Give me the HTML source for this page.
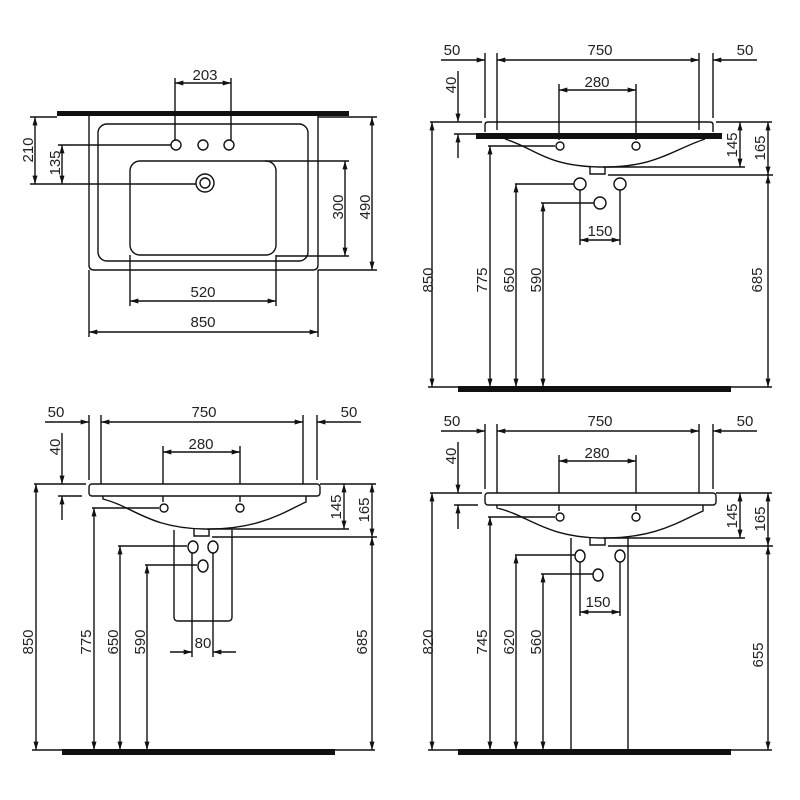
<!DOCTYPE html>
<html><head><meta charset="utf-8"><style>
html,body{margin:0;padding:0;background:#fff;}
svg{display:block;}
text{font-family:"Liberation Sans",sans-serif;font-size:15px;fill:#222;}
</style></head><body>
<svg width="800" height="800" viewBox="0 0 800 800" xmlns="http://www.w3.org/2000/svg">
<defs>
<marker id="a" viewBox="0 0 10 6" refX="10" refY="3" markerWidth="9" markerHeight="5" markerUnits="userSpaceOnUse" orient="auto-start-reverse"><path d="M0,0L10,3L0,6z" fill="#111"/></marker>
<g id="top">
  <line x1="441" y1="60" x2="485" y2="60" stroke="#111" stroke-width="1.4" marker-end="url(#a)"/>
  <line x1="757" y1="60" x2="713" y2="60" stroke="#111" stroke-width="1.4" marker-end="url(#a)"/>
  <line x1="497" y1="60" x2="699" y2="60" stroke="#111" stroke-width="1.4" marker-start="url(#a)" marker-end="url(#a)"/>
  <g stroke="#111" stroke-width="1.4">
    <line x1="485" y1="53" x2="485" y2="118"/><line x1="497" y1="53" x2="497" y2="130"/>
    <line x1="699" y1="53" x2="699" y2="130"/><line x1="713" y1="53" x2="713" y2="118"/>
    <line x1="559" y1="84" x2="559" y2="140"/><line x1="636" y1="84" x2="636" y2="140"/>
    <line x1="430" y1="122" x2="482" y2="122"/><line x1="716" y1="122" x2="772" y2="122"/>
    <line x1="454" y1="134" x2="478" y2="134"/>
    <line x1="488" y1="146" x2="555" y2="146"/>
    <line x1="603" y1="167" x2="745" y2="167"/>
    <line x1="608" y1="175" x2="773" y2="175"/>
    <path d="M590,167 V174 H605 V167" fill="none"/>
    <circle cx="560" cy="146" r="4" fill="#fff"/><circle cx="636" cy="146" r="4" fill="#fff"/>
  </g>
  <line x1="559" y1="90" x2="636" y2="90" stroke="#111" stroke-width="1.4" marker-start="url(#a)" marker-end="url(#a)"/>
  <line x1="458" y1="71" x2="458" y2="122" stroke="#111" stroke-width="1.4" marker-end="url(#a)"/>
  <line x1="458" y1="158" x2="458" y2="134" stroke="#111" stroke-width="1.4" marker-end="url(#a)"/>
  <line x1="740" y1="122" x2="740" y2="167" stroke="#111" stroke-width="1.4" marker-start="url(#a)" marker-end="url(#a)"/>
  <line x1="768" y1="122" x2="768" y2="175" stroke="#111" stroke-width="1.4" marker-start="url(#a)" marker-end="url(#a)"/>
  <text x="452" y="55" text-anchor="middle">50</text>
  <text x="600" y="55" text-anchor="middle">750</text>
  <text x="745" y="55" text-anchor="middle">50</text>
  <text x="597" y="87" text-anchor="middle">280</text>
  <text transform="translate(456,85) rotate(-90)" text-anchor="middle">40</text>
  <text transform="translate(737,145) rotate(-90)" text-anchor="middle">145</text>
  <text transform="translate(765,148) rotate(-90)" text-anchor="middle">165</text>
</g>
</defs>

<!-- TOP LEFT -->
<g stroke="#111" stroke-width="1.4" fill="none">
  <rect x="57" y="111" width="292" height="5" fill="#111" stroke="none"/>
  <path d="M89,116 V265 Q89,270 94,270 H313 Q318,270 318,265 V116"/>
  <rect x="98" y="124" width="210" height="137" rx="9"/>
  <rect x="130" y="161" width="146" height="94" rx="10"/>
  <circle cx="176" cy="145" r="5"/><circle cx="203" cy="145" r="5"/><circle cx="229" cy="145" r="5"/>
  <circle cx="205" cy="183" r="9"/><circle cx="205" cy="183" r="5"/>
  <line x1="175" y1="78" x2="175" y2="140"/><line x1="231" y1="78" x2="231" y2="140"/>
  <line x1="30" y1="117" x2="57" y2="117"/>
  <line x1="58" y1="145" x2="171" y2="145"/>
  <line x1="30" y1="184" x2="196" y2="184"/>
  <line x1="265" y1="161" x2="349" y2="161"/><line x1="276" y1="256" x2="349" y2="256"/>
  <line x1="318" y1="117" x2="377" y2="117"/><line x1="318" y1="270" x2="377" y2="270"/>
  <line x1="130" y1="255" x2="130" y2="306"/><line x1="276" y1="255" x2="276" y2="306"/>
  <line x1="89" y1="270" x2="89" y2="337"/><line x1="318" y1="270" x2="318" y2="337"/>
</g>
<g stroke="#111" stroke-width="1.4">
  <line x1="175" y1="83" x2="231" y2="83" marker-start="url(#a)" marker-end="url(#a)"/>
  <line x1="35" y1="117" x2="35" y2="184" marker-start="url(#a)" marker-end="url(#a)"/>
  <line x1="62" y1="145" x2="62" y2="184" marker-start="url(#a)" marker-end="url(#a)"/>
  <line x1="345" y1="161" x2="345" y2="256" marker-start="url(#a)" marker-end="url(#a)"/>
  <line x1="372" y1="117" x2="372" y2="270" marker-start="url(#a)" marker-end="url(#a)"/>
  <line x1="130" y1="301" x2="276" y2="301" marker-start="url(#a)" marker-end="url(#a)"/>
  <line x1="89" y1="332" x2="318" y2="332" marker-start="url(#a)" marker-end="url(#a)"/>
</g>
<text x="205" y="80" text-anchor="middle">203</text>
<text transform="translate(33,150) rotate(-90)" text-anchor="middle">210</text>
<text transform="translate(60,163) rotate(-90)" text-anchor="middle">135</text>
<text transform="translate(343,207) rotate(-90)" text-anchor="middle">300</text>
<text transform="translate(370,207) rotate(-90)" text-anchor="middle">490</text>
<text x="203" y="297" text-anchor="middle">520</text>
<text x="203" y="327" text-anchor="middle">850</text>

<!-- TOP RIGHT -->
<use href="#top"/>
<g stroke="#111" stroke-width="1.4" fill="none">
  <path d="M485,132 V125 Q485,122 488,122 H710 Q713,122 713,125 V132"/>
  <rect x="476" y="133" width="246" height="6" fill="#111" stroke="none"/>
  <path d="M505,139 C535,148 545,166 600,167 C655,168 672,150 705,139"/>
  <circle cx="580" cy="184" r="6"/><circle cx="620" cy="184" r="6"/><circle cx="600" cy="203" r="6"/>
  <line x1="515" y1="184" x2="574" y2="184"/><line x1="541" y1="203" x2="594" y2="203"/>
  <line x1="580" y1="190" x2="580" y2="245"/><line x1="620" y1="190" x2="620" y2="245"/>
  <line x1="428" y1="387" x2="772" y2="387"/>
  <rect x="458" y="386" width="273" height="6" fill="#111" stroke="none"/>
</g>
<g stroke="#111" stroke-width="1.4">
  <line x1="580" y1="240" x2="620" y2="240" marker-start="url(#a)" marker-end="url(#a)"/>
  <line x1="432" y1="122" x2="432" y2="387" marker-start="url(#a)" marker-end="url(#a)"/>
  <line x1="490" y1="146" x2="490" y2="387" marker-start="url(#a)" marker-end="url(#a)"/>
  <line x1="516" y1="184" x2="516" y2="387" marker-start="url(#a)" marker-end="url(#a)"/>
  <line x1="543" y1="203" x2="543" y2="387" marker-start="url(#a)" marker-end="url(#a)"/>
  <line x1="768" y1="175" x2="768" y2="387" marker-start="url(#a)" marker-end="url(#a)"/>
</g>
<text x="600" y="236" text-anchor="middle">150</text>
<text transform="translate(433,280) rotate(-90)" text-anchor="middle">850</text>
<text transform="translate(487,280) rotate(-90)" text-anchor="middle">775</text>
<text transform="translate(514,280) rotate(-90)" text-anchor="middle">650</text>
<text transform="translate(541,280) rotate(-90)" text-anchor="middle">590</text>
<text transform="translate(762,280) rotate(-90)" text-anchor="middle">685</text>

<!-- BOTTOM LEFT -->
<g transform="translate(-396,362)">
  <use href="#top"/>
  <g stroke="#111" stroke-width="1.4" fill="none">
    <rect x="485" y="122" width="231" height="12" rx="3" fill="#fff"/>
    <path d="M499,134 V137 C530,145 545,166 600,167 C655,168 680,150 702,140 V134"/>
  </g>
</g>
<g stroke="#111" stroke-width="1.4" fill="none">
  <path d="M174,530 V617 Q174,621 178,621 H228 Q232,621 232,617 V530"/>
  <ellipse cx="193" cy="547" rx="5" ry="6"/><ellipse cx="213" cy="547" rx="5" ry="6"/><ellipse cx="203" cy="566" rx="5" ry="6"/>
  <line x1="118" y1="546" x2="187" y2="546"/><line x1="145" y1="565" x2="197" y2="565"/>
  <line x1="192" y1="553" x2="192" y2="657"/><line x1="213" y1="553" x2="213" y2="657"/>
  <line x1="32" y1="750" x2="375" y2="750"/>
  <rect x="62" y="749" width="273" height="6" fill="#111" stroke="none"/>
</g>
<g stroke="#111" stroke-width="1.4">
  <line x1="170" y1="652" x2="192" y2="652" marker-end="url(#a)"/>
  <line x1="236" y1="652" x2="213" y2="652" marker-end="url(#a)"/>
  <line x1="36" y1="484" x2="36" y2="750" marker-start="url(#a)" marker-end="url(#a)"/>
  <line x1="94" y1="508" x2="94" y2="750" marker-start="url(#a)" marker-end="url(#a)"/>
  <line x1="120" y1="546" x2="120" y2="750" marker-start="url(#a)" marker-end="url(#a)"/>
  <line x1="147" y1="565" x2="147" y2="750" marker-start="url(#a)" marker-end="url(#a)"/>
  <line x1="372" y1="537" x2="372" y2="750" marker-start="url(#a)" marker-end="url(#a)"/>
</g>
<text x="203" y="648" text-anchor="middle">80</text>
<text transform="translate(33,642) rotate(-90)" text-anchor="middle">850</text>
<text transform="translate(91,642) rotate(-90)" text-anchor="middle">775</text>
<text transform="translate(118,642) rotate(-90)" text-anchor="middle">650</text>
<text transform="translate(145,642) rotate(-90)" text-anchor="middle">590</text>
<text transform="translate(367,642) rotate(-90)" text-anchor="middle">685</text>

<!-- BOTTOM RIGHT -->
<g transform="translate(0,371)">
  <use href="#top"/>
  <g stroke="#111" stroke-width="1.4" fill="none">
    <rect x="485" y="122" width="231" height="12" rx="3" fill="#fff"/>
    <path d="M497,134 V137 C530,145 545,166 600,167 C655,168 680,150 703,140 V134"/>
  </g>
</g>
<g stroke="#111" stroke-width="1.4" fill="none">
  <line x1="571" y1="538" x2="571" y2="750"/><line x1="628" y1="538" x2="628" y2="750"/>
  <ellipse cx="580" cy="556" rx="5" ry="6" fill="#fff"/><ellipse cx="620" cy="556" rx="5" ry="6" fill="#fff"/><ellipse cx="598" cy="575" rx="5" ry="6"/>
  <line x1="515" y1="555" x2="575" y2="555"/><line x1="541" y1="574" x2="593" y2="574"/>
  <line x1="580" y1="562" x2="580" y2="616"/><line x1="620" y1="562" x2="620" y2="616"/>
  <line x1="428" y1="750" x2="772" y2="750"/>
  <rect x="458" y="749" width="273" height="6" fill="#111" stroke="none"/>
</g>
<g stroke="#111" stroke-width="1.4">
  <line x1="580" y1="612" x2="620" y2="612" marker-start="url(#a)" marker-end="url(#a)"/>
  <line x1="432" y1="493" x2="432" y2="750" marker-start="url(#a)" marker-end="url(#a)"/>
  <line x1="490" y1="517" x2="490" y2="750" marker-start="url(#a)" marker-end="url(#a)"/>
  <line x1="516" y1="555" x2="516" y2="750" marker-start="url(#a)" marker-end="url(#a)"/>
  <line x1="543" y1="574" x2="543" y2="750" marker-start="url(#a)" marker-end="url(#a)"/>
  <line x1="768" y1="546" x2="768" y2="750" marker-start="url(#a)" marker-end="url(#a)"/>
</g>
<text x="598" y="607" text-anchor="middle">150</text>
<text transform="translate(433,642) rotate(-90)" text-anchor="middle">820</text>
<text transform="translate(487,642) rotate(-90)" text-anchor="middle">745</text>
<text transform="translate(514,642) rotate(-90)" text-anchor="middle">620</text>
<text transform="translate(541,642) rotate(-90)" text-anchor="middle">560</text>
<text transform="translate(763,655) rotate(-90)" text-anchor="middle">655</text>
</svg>
</body></html>
